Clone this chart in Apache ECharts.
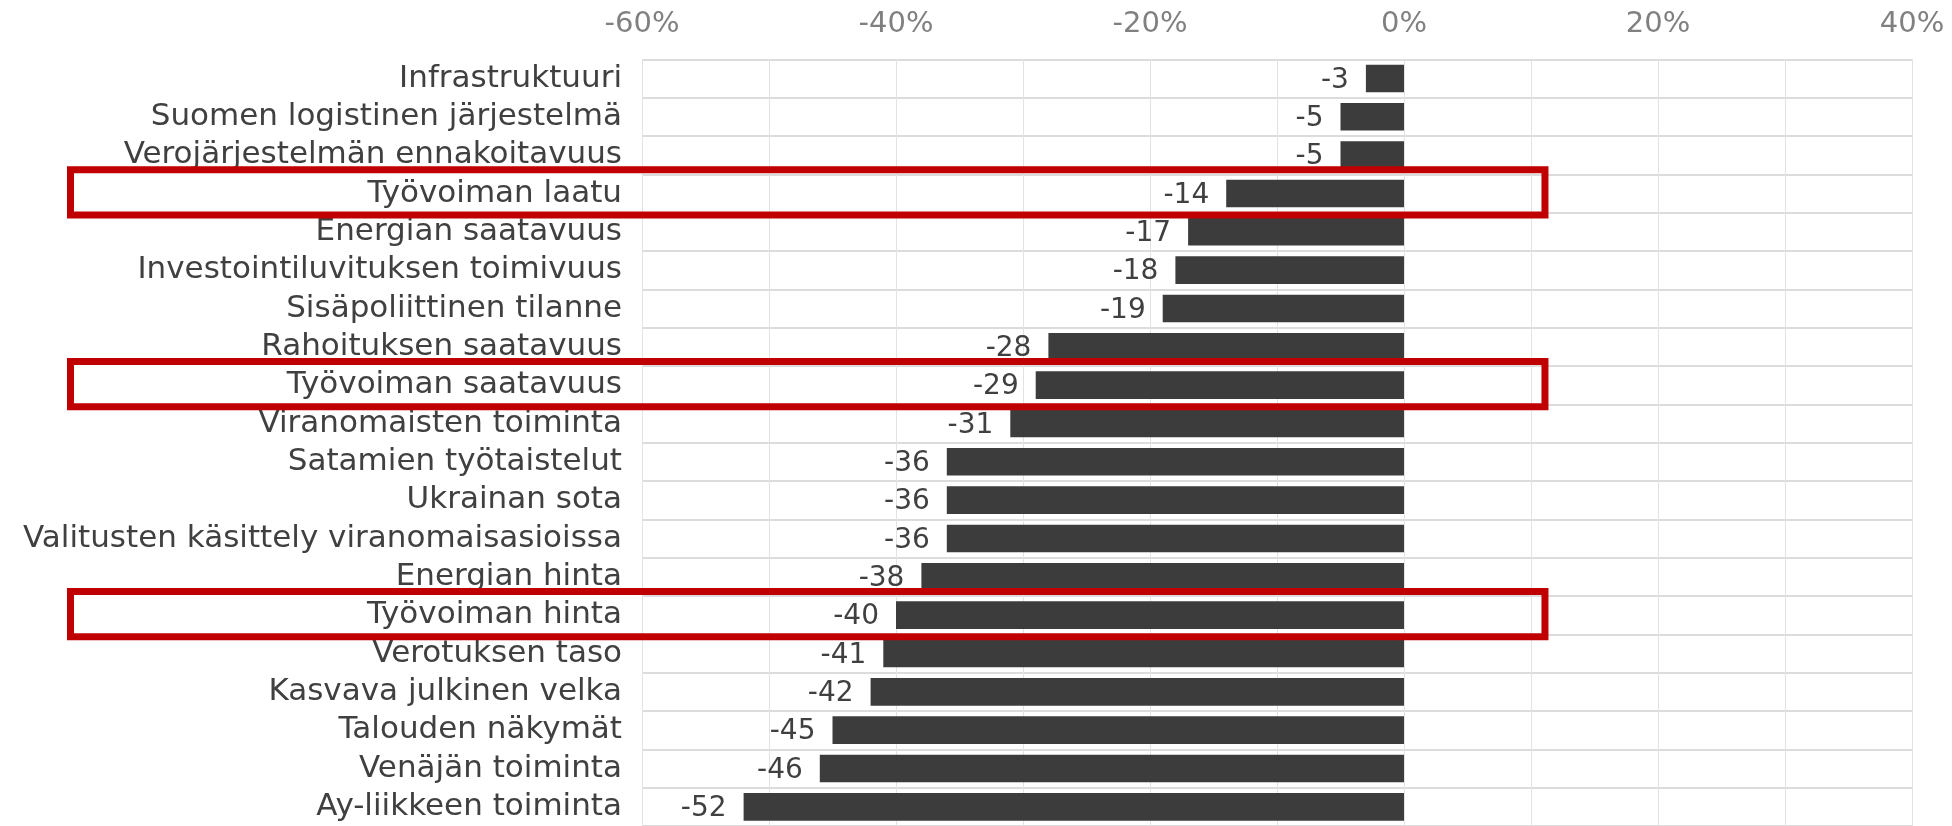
<!DOCTYPE html>
<html>
<head>
<meta charset="utf-8">
<script src="https://cdn.jsdelivr.net/npm/echarts@6/dist/echarts.min.js"></script>
<style>
html,body{margin:0;padding:0;background:#fff;}
#chart{width:1952px;height:826px;}
</style>
</head>
<body>
<div id="chart"></div>
<script>
const categories = [
  'Infrastruktuuri',
  'Suomen logistinen järjestelmä',
  'Verojärjestelmän ennakoitavuus',
  'Työvoiman laatu',
  'Energian saatavuus',
  'Investointiluvituksen toimivuus',
  'Sisäpoliittinen tilanne',
  'Rahoituksen saatavuus',
  'Työvoiman saatavuus',
  'Viranomaisten toiminta',
  'Satamien työtaistelut',
  'Ukrainan sota',
  'Valitusten käsittely viranomaisasioissa',
  'Energian hinta',
  'Työvoiman hinta',
  'Verotuksen taso',
  'Kasvava julkinen velka',
  'Talouden näkymät',
  'Venäjän toiminta',
  'Ay-liikkeen toiminta'
];
const values = [-3, -5, -5, -14, -17, -18, -19, -28, -29, -31, -36, -36, -36, -38, -40, -41, -42, -45, -46, -52];
const highlighted = ['Työvoiman laatu', 'Työvoiman saatavuus', 'Työvoiman hinta'];
const axisMin = -60, axisMax = 40, axisStep = 10, labelStep = 20;

const BOX_FROM = -105, BOX_TO = 11.1;

const chart = echarts.init(document.getElementById('chart'), null, {renderer: 'canvas'});
const rowCount = categories.length;
const gridTop = 59.3;
const rowH = 38.5;

chart.setOption({
  backgroundColor: '#ffffff',
  animation: false,
  grid: {left: 642, right: 40, top: gridTop, height: rowH * rowCount, containLabel: false},
  xAxis: {
    type: 'value',
    position: 'top',
    min: axisMin, max: axisMax, interval: axisStep,
    axisLine: {show: false},
    axisTick: {show: false},
    axisLabel: {
      margin: 20,
      color: '#808080',
      fontFamily: 'DejaVu Sans',
      fontSize: 29,
      formatter: v => (v % labelStep === 0 ? v + '%' : '')
    },
    splitLine: {show: true, lineStyle: {color: '#e3e3e3', width: 1}}
  },
  yAxis: {
    type: 'category',
    inverse: true,
    data: categories,
    axisLine: {show: false},
    axisTick: {show: false},
    axisLabel: {
      interval: 0,
      margin: 20,
      color: '#404040',
      fontFamily: 'DejaVu Sans',
      fontSize: 31,
      padding: [7, 0, 0, 0]
    },
    splitLine: {show: true, interval: 0, lineStyle: {color: '#dcdcdc', width: 2}}
  },
  series: [
    {
      type: 'bar',
      data: values,
      barCategoryGap: '28%',
      itemStyle: {color: '#3c3c3c'},
      label: {
        show: true,
        position: 'left',
        distance: 17,
        offset: [0, 2],
        color: '#404040',
        fontFamily: 'DejaVu Sans',
        fontSize: 28
      },
      z: 2
    },
    {
      type: 'custom',
      clip: false,
      z: 10,
      silent: true,
      data: highlighted.map(c => [categories.indexOf(c)]),
      encode: {y: 0},
      renderItem: function (params, api) {
        const idx = api.value(0);
        const pL = api.coord([BOX_FROM, idx]);
        const pR = api.coord([BOX_TO, idx]);
        const band = api.size([0, 1])[1];
        const h = band * 1.18;
        return {
          type: 'rect',
          shape: {x: pL[0], y: pL[1] - h / 2 - 1, width: pR[0] - pL[0], height: h},
          style: {fill: 'none', stroke: '#c00000', lineWidth: 7}
        };
      }
    }
  ]
});
</script>
</body>
</html>
